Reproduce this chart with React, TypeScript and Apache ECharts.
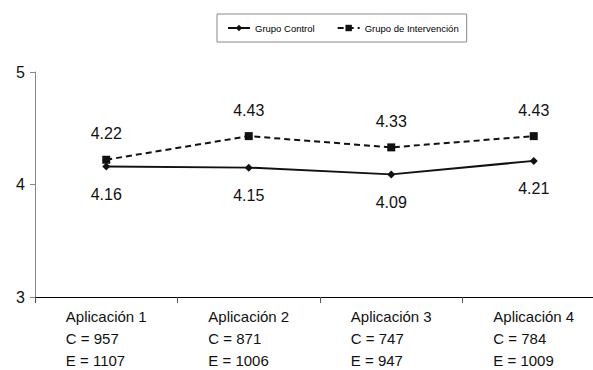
import React, { useEffect, useRef } from "react";
import * as echarts from "echarts";

const categories = ["Aplicación 1", "Aplicación 2", "Aplicación 3", "Aplicación 4"];
const controlN = [957, 871, 747, 784];
const interventionN = [1107, 1006, 947, 1009];
const controlValues = [4.16, 4.15, 4.09, 4.21];
const interventionValues = [4.22, 4.43, 4.33, 4.43];
const seriesNames = ["Grupo Control", "Grupo de Intervención"];
const yTicks = { min: 3, max: 5, interval: 1 };

const FONT = "'Liberation Sans', Arial, sans-serif";

export default function App() {
  const ref = useRef<HTMLDivElement>(null);
  useEffect(() => {
    if (!ref.current) return;
    const chart = echarts.init(ref.current, null, { renderer: "svg" });
    chart.setOption({
      animation: false,
      backgroundColor: "#ffffff",
      textStyle: { fontFamily: FONT },
      legend: {
        left: 217,
        top: 14,
        padding: [9, 8, 9, 10],
        borderColor: "#888",
        borderWidth: 1,
        itemGap: 22,
        itemWidth: 22,
        itemHeight: 8,
        textStyle: { fontSize: 9.5, color: "#000", fontFamily: FONT },
        data: seriesNames,
      },
      grid: { left: 35, top: 72, bottom: 73, right: -12, outerBoundsMode: "none", containLabel: false },
      xAxis: {
        type: "category",
        data: categories,
        boundaryGap: true,
        axisLine: { lineStyle: { color: "#000", width: 1 } },
        axisTick: { show: true, length: 6, lineStyle: { color: "#555" } },
        axisLabel: {
          margin: 8,
          interval: 0,
          hideOverlap: false,
          formatter: (v: string, i: number) =>
            `{a|${v}}\n{a|C = ${controlN[i]}}\n{a|E = ${interventionN[i]}}`,
          rich: {
            a: { align: "left", fontSize: 15, lineHeight: 22, color: "#111", fontFamily: FONT },
          },
        },
      },
      yAxis: {
        type: "value",
        min: yTicks.min,
        max: yTicks.max,
        interval: yTicks.interval,
        splitLine: { show: false },
        axisLine: { show: true, lineStyle: { color: "#888" } },
        axisTick: { show: true, length: 5, lineStyle: { color: "#888" } },
        axisLabel: { fontSize: 16, color: "#111", margin: 10, fontFamily: FONT },
      },
      series: [
        {
          name: seriesNames[0],
          type: "line",
          data: controlValues,
          symbol: "diamond",
          symbolSize: 8,
          itemStyle: { color: "#111" },
          lineStyle: { color: "#111", width: 2, type: "solid" },
          label: {
            show: true,
            position: "bottom",
            distance: 16,
            fontSize: 16,
            color: "#111",
            fontFamily: FONT,
            formatter: (p: any) => p.value.toFixed(2),
          },
        },
        {
          name: seriesNames[1],
          type: "line",
          data: interventionValues,
          symbol: "rect",
          symbolSize: 8,
          itemStyle: { color: "#111" },
          lineStyle: { color: "#111", width: 2, type: [6, 4] },
          label: {
            show: true,
            position: "top",
            distance: 14,
            fontSize: 16,
            color: "#111",
            fontFamily: FONT,
            formatter: (p: any) => p.value.toFixed(2),
          },
        },
      ],
    });
    return () => chart.dispose();
  }, []);
  return (
    <div
      ref={ref}
      style={{ position: "absolute", left: 0, top: 0, width: 593, height: 370 }}
    />
  );
}
